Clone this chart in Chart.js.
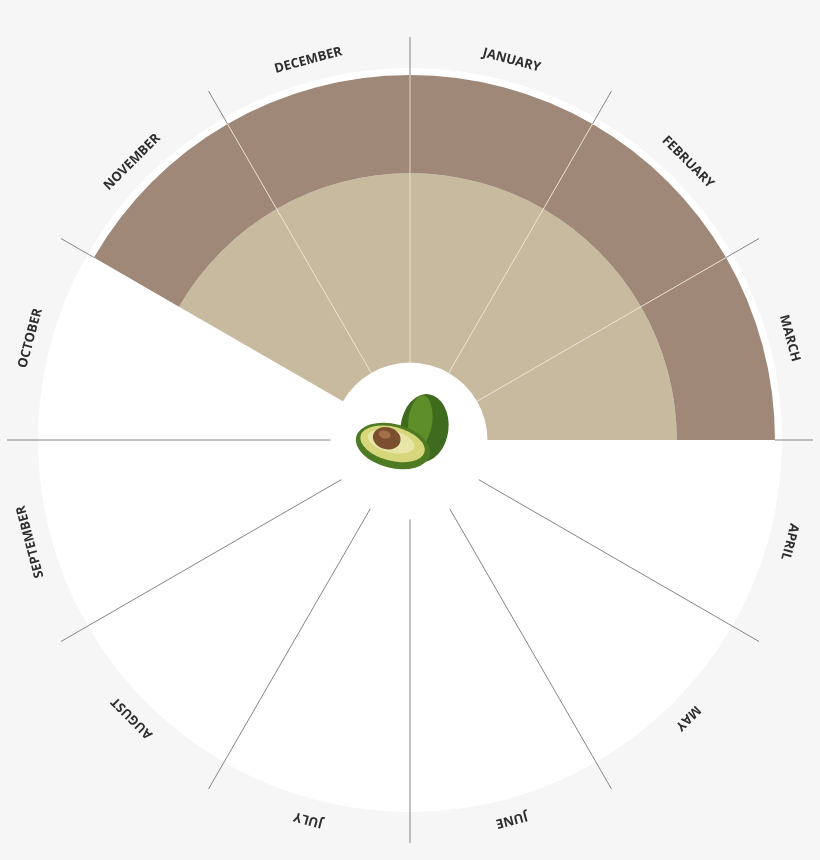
<!DOCTYPE html>
<html>
<head>
<meta charset="utf-8">
<script src="https://cdn.jsdelivr.net/npm/chart.js@4/dist/chart.umd.min.js"></script>
<style>
  html, body { margin: 0; padding: 0; background: #f6f6f6; }
  #wrap { width: 820px; height: 860px; }
</style>
</head>
<body>
<div id="wrap"><canvas id="c" width="820" height="860"></canvas></div>
<script>
// months, clockwise from the top
const months = ['JANUARY', 'FEBRUARY', 'MARCH', 'APRIL', 'MAY', 'JUNE',
                'JULY', 'AUGUST', 'SEPTEMBER', 'OCTOBER', 'NOVEMBER', 'DECEMBER'];
// 1 = in season
const outerSeason = [1, 1, 1, 0, 0, 0, 0, 0, 0, 0, 1, 1];
const innerSeason = [1, 1, 1, 0, 0, 0, 0, 0, 0, 0, 1, 1];

const BROWN = '#a08878';
const BEIGE = '#c8ba9e';

const wheelPlugin = {
    id: 'wheel',
    beforeDatasetsDraw(chart) {
        let arc = chart.getDatasetMeta(0).data[0];
        let ctx = chart.ctx;
        ctx.save();
        ctx.fillStyle = '#ffffff';
        ctx.beginPath();
        ctx.arc(arc.x, arc.y, arc.outerRadius + 7, 0, Math.PI * 2);
        ctx.fill();
        ctx.restore();
    },
    afterDatasetsDraw(chart) {
        let outer = chart.getDatasetMeta(0).data[0];
        let inner = chart.getDatasetMeta(1).data[0];
        let cx = outer.x, cy = outer.y;
        let R = outer.outerRadius, r0 = inner.innerRadius;
        let ctx = chart.ctx;
        ctx.save();
        // divider lines
        for (let k = 0; k < 12; k++) {
            let a = k * Math.PI / 6 - Math.PI / 2;
            let prev = outerSeason[(k + 11) % 12], cur = outerSeason[k];
            let colored = prev && cur;
            let ln = (a1, a2, col) => {
                ctx.strokeStyle = col;
                ctx.lineWidth = 0.9;
                ctx.beginPath();
                ctx.moveTo(cx + Math.cos(a) * a1, cy + Math.sin(a) * a1);
                ctx.lineTo(cx + Math.cos(a) * a2, cy + Math.sin(a) * a2);
                ctx.stroke();
            };
            ln(R, R + 38, '#777777');
            if (colored) ln(r0, R, '#ece4d6');
            else if (!prev && !cur) ln(r0 + 2, R, '#777777');
        }
        // month labels
        ctx.fillStyle = '#2e2e2e';
        ctx.font = 'bold 13px "Open Sans", sans-serif';
        ctx.textAlign = 'center';
        ctx.textBaseline = 'middle';
        months.forEach((m, i) => {
            let t = (i + 0.5) * Math.PI / 6;
            let rr = R + 28;
            ctx.save();
            ctx.translate(cx + Math.sin(t) * rr, cy - Math.cos(t) * rr);
            ctx.rotate(t);
            ctx.fillText(m, 0, 0);
            ctx.restore();
        });
        // avocado in the middle
        ctx.save();
        ctx.translate(cx + 15, cy - 16);
        ctx.rotate(0.12);
        ctx.fillStyle = '#3f6b1e';
        ctx.beginPath();
        ctx.ellipse(0, 4, 24, 34, 0, 0, Math.PI * 2);
        ctx.fill();
        ctx.fillStyle = '#5d8e2a';
        ctx.beginPath();
        ctx.ellipse(-5, -2, 12, 26, 0, 0, Math.PI * 2);
        ctx.fill();
        ctx.restore();

        ctx.save();
        ctx.translate(cx - 17, cy + 6);
        ctx.rotate(0.25);
        ctx.fillStyle = '#4d7a22';
        ctx.beginPath();
        ctx.ellipse(0, 0, 38, 22, 0, 0, Math.PI * 2);
        ctx.fill();
        ctx.fillStyle = '#d6d77a';
        ctx.beginPath();
        ctx.ellipse(-1, -2, 33, 17, 0, 0, Math.PI * 2);
        ctx.fill();
        ctx.fillStyle = '#e8e6a6';
        ctx.beginPath();
        ctx.ellipse(-3, -4, 24, 11, 0, 0, Math.PI * 2);
        ctx.fill();
        ctx.fillStyle = '#7a4e2e';
        ctx.beginPath();
        ctx.ellipse(-8, -6, 14, 11, 0, 0, Math.PI * 2);
        ctx.fill();
        ctx.fillStyle = '#a4714a';
        ctx.beginPath();
        ctx.ellipse(-11, -9, 6, 4, 0, 0, Math.PI * 2);
        ctx.fill();
        ctx.restore();
        ctx.restore();
    }
};

new Chart(document.getElementById('c'), {
    type: 'doughnut',
    data: {
        labels: months,
        datasets: [{
            data: months.map(() => 1),
            backgroundColor: outerSeason.map(s => s ? BROWN : 'rgba(0,0,0,0)'),
            borderWidth: 0,
            weight: 95
        }, {
            data: months.map(() => 1),
            backgroundColor: innerSeason.map(s => s ? BEIGE : 'rgba(0,0,0,0)'),
            borderWidth: 0,
            weight: 183
        }]
    },
    options: {
        responsive: false,
        animation: false,
        radius: 365,
        cutout: 87,
        layout: { padding: { top: 20 } },
        plugins: { legend: { display: false }, tooltip: { enabled: false } }
    },
    plugins: [wheelPlugin]
});
</script>
</body>
</html>
